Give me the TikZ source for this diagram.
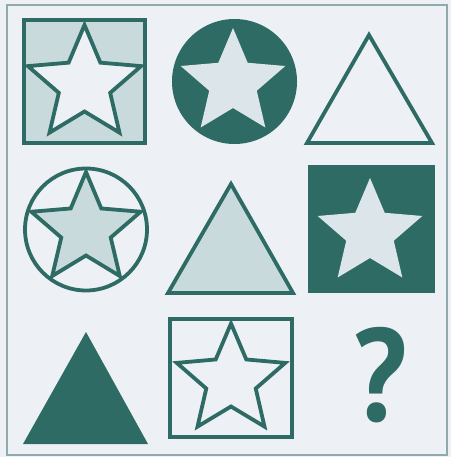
\documentclass[tikz,border=0pt]{standalone}
\usepackage{fontspec}
\usepackage{tikz}
\usetikzlibrary{calc}
\definecolor{verdeosc}{HTML}{2E6B64}
\definecolor{fondo}{HTML}{EDF1F6}
\definecolor{celeste}{HTML}{C9DADD}
\definecolor{claro}{HTML}{DCE6EA}
\definecolor{marco}{HTML}{8FA9AC}
\newfontfamily\pregunta{PT Sans}
% estrella de 5 puntas: centro x, centro y, radio exterior, radio interior
\newcommand{\estrella}[4]{%
  ({#1+#3*cos(-90)},{#2+#3*sin(-90)})
  \foreach \k in {0,...,3}{
    -- ({#1+#4*cos(-54+72*\k)},{#2+#4*sin(-54+72*\k)})
    -- ({#1+#3*cos(-18+72*\k)},{#2+#3*sin(-18+72*\k)})
  }
  -- ({#1+#4*cos(234)},{#2+#4*sin(234)}) -- cycle}
\tikzset{
  contorno/.style={draw=verdeosc, line width=3.8pt, line join=miter},
  signo/.style={text=verdeosc, inner sep=0pt, xscale=0.9,
    font=\pregunta\bfseries\fontsize{132}{132}\selectfont},
}
\begin{document}
\begin{tikzpicture}[x=1pt, y=-1pt]
    % fondo y marco
    \fill[fondo] (0,0) rectangle (451,457);
    \useasboundingbox (0,0) rectangle (451,457);
    \draw[marco, line width=1.4pt] (7,5) rectangle (447,455);
    % fila 1
    \draw[contorno, fill=celeste] (24,20) rectangle (145,143);
    \draw[contorno, fill=fondo] \estrella{84.5}{84.5}{59.5}{27};
    \fill[verdeosc] (234.5,81.5) circle (62.5);
    \fill[claro] \estrella{233}{83}{55}{25};
    \draw[contorno, fill=fondo] (369,35) -- (432,143) -- (307,143) -- cycle;
    % fila 2
    \draw[contorno, fill=fondo] (86,229.5) circle (61);
    \draw[contorno, fill=celeste] \estrella{86}{229.5}{57.5}{26};
    \draw[contorno, fill=celeste] (231,184) -- (293,293) -- (168,293) -- cycle;
    \fill[verdeosc] (308,165) rectangle (435,293);
    \fill[claro] \estrella{370}{233}{55}{25};
    % fila 3
    \fill[verdeosc] (86,332) -- (148,444) -- (23,444) -- cycle;
    \draw[contorno, fill=fondo] (170,319) rectangle (292,437);
    \draw[contorno, fill=fondo] \estrella{231}{380.5}{57}{26};
    \node[signo] (incognita) at (380,375.5) {?};
  \end{tikzpicture}
\end{document}
